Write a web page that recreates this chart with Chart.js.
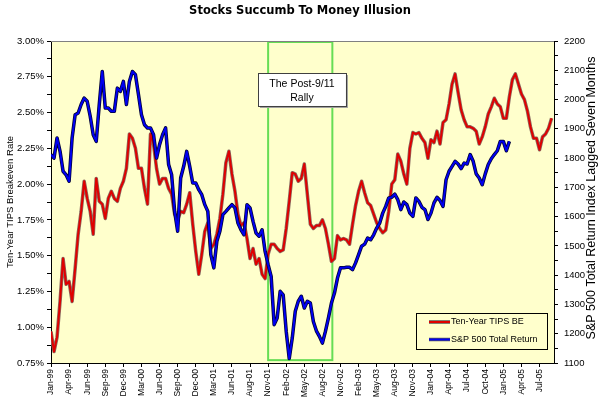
<!DOCTYPE html>
<html>
<head>
<meta charset="utf-8">
<script src="https://cdn.jsdelivr.net/npm/chart.js@4.4.1/dist/chart.umd.min.js"></script>
<style>
  html, body { margin: 0; padding: 0; background: #fff; }
  #wrap { width: 600px; height: 406px; }
</style>
</head>
<body>
<div id="wrap"><canvas id="chart" width="600" height="406"></canvas></div>
<script>
// tick labels along the date axis (one every ~63 trading days)
const tickLabels = ['Jan-99', 'Apr-99', 'Jun-99', 'Sep-99', 'Dec-99', 'Mar-00', 'Jun-00', 'Sep-00', 'Dec-00',
    'Mar-01', 'Jun-01', 'Aug-01', 'Nov-01', 'Feb-02', 'May-02', 'Aug-02', 'Nov-02', 'Feb-03', 'May-03',
    'Aug-03', 'Nov-03', 'Jan-04', 'Apr-04', 'Jul-04', 'Oct-04', 'Jan-05', 'Apr-05', 'Jul-05'];

// values are sampled 6 times per tick interval
const samplesPerTick = 6;

// Ten-Year TIPS breakeven rate, %
const tipsBE = [
    0.97, 0.83, 0.93, 1.18, 1.48, 1.30, 1.32, 1.18, 1.41, 1.65, 1.81, 2.02, 1.90, 1.81, 1.65, 2.04, 1.88, 1.86,
    1.76, 1.90, 1.95, 1.90, 1.88, 1.97, 2.02, 2.11, 2.35, 2.32, 2.25, 2.11, 2.11, 1.97, 1.86, 2.35, 2.28, 2.11,
    2.00, 2.04, 2.04, 1.97, 1.93, 1.79, 1.75, 1.81, 1.80, 1.86, 1.94, 1.72, 1.53, 1.37, 1.51, 1.67, 1.73, 1.55,
    1.58, 1.65, 1.76, 1.93, 2.15, 2.23, 2.07, 1.95, 1.79, 1.71, 1.73, 1.62, 1.48, 1.55, 1.44, 1.48, 1.37, 1.34,
    1.51, 1.58, 1.58, 1.55, 1.53, 1.54, 1.69, 1.88, 2.08, 2.07, 2.02, 2.04, 2.14, 1.93, 1.72, 1.69, 1.71, 1.71,
    1.75, 1.69, 1.58, 1.46, 1.48, 1.64, 1.61, 1.62, 1.61, 1.58, 1.72, 1.85, 1.95, 2.02, 1.94, 1.87, 1.85, 1.79,
    1.73, 1.69, 1.66, 1.68, 1.81, 2.00, 2.03, 2.21, 2.16, 2.07, 2.00, 2.25, 2.36, 2.35, 2.36, 2.32, 2.29, 2.18,
    2.31, 2.29, 2.37, 2.28, 2.43, 2.45, 2.56, 2.70, 2.77, 2.64, 2.52, 2.45, 2.40, 2.40, 2.39, 2.37, 2.28, 2.33,
    2.40, 2.49, 2.54, 2.60, 2.56, 2.54, 2.46, 2.46, 2.61, 2.73, 2.77, 2.70, 2.63, 2.59, 2.51, 2.40, 2.32, 2.32,
    2.24, 2.33, 2.35, 2.39, 2.46
];

// S&P 500 total return index, lagged seven months
const sp500 = [
    1812, 1800, 1869, 1823, 1755, 1743, 1721, 1869, 1948, 1954, 1983, 2005, 1994, 1943, 1880, 1857, 1983, 2096,
    1971, 1971, 1960, 1960, 2039, 2028, 2062, 1983, 2062, 2096, 2085, 2017, 1948, 1914, 1903, 1903, 1880, 1800,
    1846, 1880, 1903, 1778, 1743, 1618, 1550, 1732, 1772, 1823, 1772, 1715, 1715, 1692, 1675, 1641, 1618, 1470,
    1425, 1516, 1550, 1607, 1618, 1630, 1641, 1630, 1578, 1555, 1538, 1641, 1630, 1584, 1544, 1533, 1555, 1481,
    1436, 1396, 1231, 1254, 1345, 1333, 1208, 1115, 1185, 1277, 1311, 1328, 1288, 1311, 1305, 1242, 1210, 1191,
    1168, 1208, 1254, 1305, 1339, 1390, 1425, 1425, 1427, 1427, 1419, 1442, 1470, 1499, 1506, 1527, 1521, 1538,
    1561, 1578, 1612, 1635, 1664, 1666, 1677, 1658, 1624, 1650, 1641, 1612, 1601, 1664, 1652, 1632, 1624, 1590,
    1612, 1647, 1666, 1655, 1635, 1726, 1755, 1772, 1789, 1780, 1764, 1783, 1780, 1812, 1789, 1746, 1732, 1709,
    1746, 1778, 1798, 1812, 1825, 1857, 1857, 1825, 1857
];

const seriesNames = ['Ten-Year TIPS BE', 'S&P 500 Total Return'];
const rallyLines = ['The Post-9/11', 'Rally'];

const FONT = '"Liberation Sans", Arial, sans-serif';
const RED = '#e00000';
const BLUE = '#0000f0';

const toPoints = arr => arr.map((v, i) => ({ x: i / samplesPerTick, y: v }));

// draws the plot background, the green rally box, the note, legend and titles
const decor = {
    id: 'decor',
    beforeDraw(chart) {
        const { ctx, chartArea: a } = chart;
        ctx.save();
        ctx.fillStyle = '#ffffff';
        ctx.fillRect(0, 0, chart.width, chart.height);
        ctx.fillStyle = '#ffffcc';
        ctx.fillRect(a.left, a.top, a.right - a.left, a.bottom - a.top);
        ctx.restore();
    },
    beforeDatasetsDraw(chart) {
        const { ctx, scales } = chart;
        const x = scales.x, y = scales.y;
        ctx.save();
        ctx.strokeStyle = '#66dd55';
        ctx.lineWidth = 2;
        const x0 = x.getPixelForValue(12.0), x1 = x.getPixelForValue(15.55);
        const y0 = y.getPixelForValue(3.0) + 1, y1 = y.getPixelForValue(0.77);
        ctx.strokeRect(x0, y0, x1 - x0, y1 - y0);
        ctx.restore();
    },
    afterDraw(chart) {
        const { ctx, chartArea: a, scales } = chart;
        const x = scales.x, y = scales.y;
        ctx.save();

        // top border of the plot
        ctx.strokeStyle = '#808080';
        ctx.lineWidth = 1;
        ctx.beginPath();
        ctx.moveTo(a.left, a.top + 0.5);
        ctx.lineTo(a.right, a.top + 0.5);
        ctx.stroke();

        // chart title
        ctx.fillStyle = '#000';
        ctx.font = 'bold 11.5px "DejaVu Sans", sans-serif';
        ctx.textAlign = 'center';
        ctx.textBaseline = 'middle';
        ctx.fillText('Stocks Succumb To Money Illusion', 300, 11);

        // axis titles, both reading bottom to top
        ctx.font = '9.5px ' + FONT;
        ctx.save();
        ctx.translate(10, (a.top + a.bottom) / 2);
        ctx.rotate(-Math.PI / 2);
        ctx.fillText('Ten-Year TIPS Breakeven Rate', 0, 0);
        ctx.restore();

        ctx.font = '12.5px ' + FONT;
        ctx.save();
        ctx.translate(592, (a.top + a.bottom) / 2 - 4);
        ctx.rotate(-Math.PI / 2);
        ctx.fillText('S&P 500 Total Return Index Lagged Seven Months', 0, 0);
        ctx.restore();

        // note box
        const bx0 = x.getPixelForValue(11.44), bx1 = x.getPixelForValue(16.3);
        const by0 = y.getPixelForValue(2.776), by1 = y.getPixelForValue(2.546);
        ctx.fillStyle = '#a0a0a0';
        ctx.fillRect(bx0 + 2, by0 + 2, bx1 - bx0, by1 - by0);
        ctx.fillStyle = '#ffffff';
        ctx.fillRect(bx0, by0, bx1 - bx0, by1 - by0);
        ctx.strokeStyle = '#404040';
        ctx.strokeRect(Math.round(bx0) + 0.5, Math.round(by0) + 0.5, Math.round(bx1 - bx0), Math.round(by1 - by0));
        ctx.fillStyle = '#000';
        ctx.font = '10.5px ' + FONT;
        const cx = (bx0 + bx1) / 2;
        ctx.fillText(rallyLines[0], cx, by0 + 11);
        ctx.fillText(rallyLines[1], cx, by0 + 25);

        // legend
        const lx = a.right - 138, ly = a.bottom - 50, lw = 131, lh = 36;
        ctx.strokeStyle = '#000';
        ctx.strokeRect(Math.round(lx) + 0.5, Math.round(ly) + 0.5, lw, lh);
        const colors = [RED, BLUE];
        ctx.font = '9px ' + FONT;
        ctx.textAlign = 'left';
        seriesNames.forEach((name, i) => {
            const yy = ly + 9 + i * 17.5;
            ctx.strokeStyle = '#555';
            ctx.lineWidth = 3.5;
            ctx.beginPath();
            ctx.moveTo(lx + 13, yy);
            ctx.lineTo(lx + 34, yy);
            ctx.stroke();
            ctx.strokeStyle = colors[i];
            ctx.lineWidth = 2;
            ctx.beginPath();
            ctx.moveTo(lx + 13, yy);
            ctx.lineTo(lx + 34, yy);
            ctx.stroke();
            ctx.fillStyle = '#000';
            ctx.fillText(name, lx + 35, yy);
        });
        ctx.restore();
    }
};

const lineStyle = { fill: false, pointRadius: 0, tension: 0, borderJoinStyle: 'round' };

new Chart(document.getElementById('chart'), {
    type: 'line',
    data: {
        datasets: [
            { ...lineStyle, label: seriesNames[1], data: toPoints(sp500), yAxisID: 'y2', borderColor: BLUE, borderWidth: 2, order: 0 },
            { ...lineStyle, label: seriesNames[1] + ' edge', data: toPoints(sp500), yAxisID: 'y2', borderColor: '#000030', borderWidth: 3.5, order: 1 },
            { ...lineStyle, label: seriesNames[0], data: toPoints(tipsBE), yAxisID: 'y', borderColor: RED, borderWidth: 2, order: 2 },
            { ...lineStyle, label: seriesNames[0] + ' edge', data: toPoints(tipsBE), yAxisID: 'y', borderColor: '#8a6a60', borderWidth: 3.5, order: 3 }
        ]
    },
    options: {
        responsive: false,
        animation: false,
        layout: { padding: { top: 41, left: 0, right: 0, bottom: 0 } },
        plugins: {
            legend: { display: false },
            title: { display: false },
            tooltip: { enabled: false }
        },
        scales: {
            x: {
                type: 'linear',
                min: 0,
                max: 27.8,
                afterBuildTicks: s => { s.ticks = tickLabels.map((_, i) => ({ value: i })); },
                afterFit: s => { s.height = 43; },
                grid: { drawOnChartArea: false, color: '#000', tickLength: 4 },
                border: { color: '#000', width: 1 },
                ticks: {
                    autoSkip: false,
                    maxRotation: 90,
                    minRotation: 90,
                    padding: 2,
                    color: '#000',
                    font: { family: FONT, size: 8.5 },
                    callback: v => tickLabels[v]
                }
            },
            y: {
                position: 'left',
                min: 0.75,
                max: 3.0,
                afterFit: s => { s.width = 51; },
                grid: { drawOnChartArea: false, color: '#000', tickLength: 4 },
                border: { color: '#000', width: 1 },
                ticks: {
                    stepSize: 0.125,
                    padding: 3,
                    color: '#000',
                    font: { family: FONT, size: 9.5 },
                    callback: (v, i) => i % 2 === 0 ? v.toFixed(2) + '%' : ''
                }
            },
            y2: {
                position: 'right',
                min: 1100,
                max: 2200,
                afterFit: s => { s.width = 46; },
                grid: { drawOnChartArea: false, color: '#000', tickLength: 4 },
                border: { color: '#000', width: 1 },
                ticks: {
                    stepSize: 50,
                    padding: 6,
                    color: '#000',
                    font: { family: FONT, size: 9.5 },
                    callback: v => v % 100 === 0 ? String(v) : ''
                }
            }
        }
    },
    plugins: [decor]
});
</script>
</body>
</html>
